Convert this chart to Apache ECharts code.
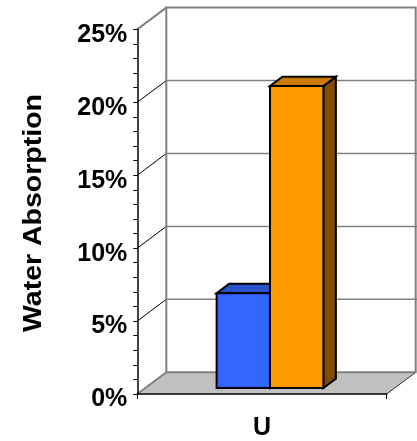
<!DOCTYPE html>
<html>
<head>
<meta charset="utf-8">
<style>
  html, body { margin: 0; padding: 0; background: #fff; }
  #chart { width: 417px; height: 441px; }
</style>
<script src="https://cdn.jsdelivr.net/npm/echarts@6/dist/echarts.min.js"></script>
</head>
<body>
<div id="chart"></div>
<script>
// Categories, values and axis ticks
const categories = ['U'];
const seriesA = [0.065];
const seriesB = [0.207];
const yTicks = [0, 0.05, 0.10, 0.15, 0.20, 0.25];

const FONT = 'Arial, "Liberation Sans", sans-serif';
// Pixel depth of the 3D box (back wall relative to the front plane)
const DEPTH = [29, -21.7];
// Bar placement inside the depth and band
const BAR_FRONT = 0.276;
const BAR_BACK = 0.707;
const BAR_WIDTH = 0.214;

const chart = echarts.init(document.getElementById('chart'), null, { renderer: 'canvas' });

function renderFrame(params, api) {
  const cs = params.coordSys;
  const x0 = cs.x, x1 = cs.x + cs.width;
  const yTop = cs.y, yBot = cs.y + cs.height;
  const dx = DEPTH[0], dy = DEPTH[1];
  const children = [];
  // floor
  children.push({
    type: 'polygon',
    shape: { points: [[x0, yBot], [x1, yBot], [x1 + dx, yBot + dy], [x0 + dx, yBot + dy]] },
    style: { fill: '#c0c0c0', stroke: null }
  });
  children.push({
    type: 'line',
    shape: { x1: x0, y1: yBot, x2: x0 + dx, y2: yBot + dy },
    style: { stroke: '#808080', lineWidth: 2 }
  });
  children.push({
    type: 'line',
    shape: { x1: x1, y1: yBot, x2: x1 + dx, y2: yBot + dy },
    style: { stroke: '#303030', lineWidth: 1 }
  });
  // back wall gridlines and side-wall connectors
  yTicks.forEach(function (t, i) {
    const y = api.coord([categories[0], t])[1];
    if (i > 0 && i < yTicks.length - 1) {
      children.push({
        type: 'line',
        shape: { x1: x0 + dx, y1: y + dy, x2: x1 + dx + 2, y2: y + dy },
        style: { stroke: '#808080', lineWidth: 1.5 }
      });
      children.push({
        type: 'line',
        shape: { x1: x0, y1: y, x2: x0 + dx, y2: y + dy },
        style: { stroke: '#000', lineWidth: 1 }
      });
    }
  });
  // back wall border
  children.push({
    type: 'polyline',
    shape: { points: [[x0 + dx, yBot + dy], [x0 + dx, yTop + dy], [x1 + dx, yTop + dy], [x1 + dx, yBot + dy], [x0 + dx, yBot + dy]] },
    style: { stroke: '#808080', lineWidth: 2, fill: null }
  });
  // side wall top edge
  children.push({
    type: 'line',
    shape: { x1: x0, y1: yTop, x2: x0 + dx, y2: yTop + dy },
    style: { stroke: '#808080', lineWidth: 2 }
  });
  return { type: 'group', children: children };
}

function makeBarRenderer(side, colors) {
  return function (params, api) {
    const v = api.value(1);
    const p0 = api.coord([api.value(0), 0]);
    const p1 = api.coord([api.value(0), v]);
    const band = api.size([1, 0])[0];
    const w = band * BAR_WIDTH;
    const l = side === 0 ? p0[0] - w : p0[0];
    const r = l + w;
    const fx = DEPTH[0] * BAR_FRONT, fy = DEPTH[1] * BAR_FRONT;
    const bx = DEPTH[0] * BAR_BACK, by = DEPTH[1] * BAR_BACK;
    const yb = p0[1], yt = p1[1];
    const stroke = { stroke: '#000', lineWidth: 2, lineJoin: 'miter' };
    return {
      type: 'group',
      children: [
        {
          type: 'polygon',
          shape: { points: [[r + fx, yt + fy], [r + bx, yt + by], [r + bx, yb + by], [r + fx, yb + fy]] },
          style: Object.assign({ fill: colors.side }, stroke)
        },
        {
          type: 'polygon',
          shape: { points: [[l + fx, yt + fy], [r + fx, yt + fy], [r + bx, yt + by], [l + bx, yt + by]] },
          style: Object.assign({ fill: colors.top }, stroke)
        },
        {
          type: 'polygon',
          shape: { points: [[l + fx, yt + fy], [r + fx, yt + fy], [r + fx, yb + fy], [l + fx, yb + fy]] },
          style: Object.assign({ fill: colors.front }, stroke)
        }
      ]
    };
  };
}

const option = {
  animation: false,
  backgroundColor: '#fff',
  grid: { left: 137.3, right: 30.3, top: 29.3, bottom: 45.7, containLabel: false },
  xAxis: {
    type: 'category',
    data: categories,
    boundaryGap: true,
    axisLine: { lineStyle: { color: '#000', width: 1.5 } },
    axisTick: { show: true, length: 5, lineStyle: { color: '#000', width: 1 } },
    axisLabel: { color: '#000', fontFamily: FONT, fontWeight: 'bold', fontSize: 25, margin: 22 },
    splitLine: { show: false },
    z: 5
  },
  yAxis: {
    type: 'value',
    min: yTicks[0],
    max: yTicks[yTicks.length - 1],
    interval: yTicks[1] - yTicks[0],
    axisLine: { show: true, lineStyle: { color: '#000', width: 1.5 } },
    axisTick: { show: true, length: 4, lineStyle: { color: '#000', width: 1 } },
    minorTick: { show: true, splitNumber: 5, length: 4, lineStyle: { color: '#000', width: 1 } },
    axisLabel: {
      color: '#000', fontFamily: FONT, fontWeight: 'bold', fontSize: 25, margin: 10,
      verticalAlign: 'top',
      lineHeight: 11,
      formatter: function (v) { return Math.round(v * 100) + '%'; }
    },
    splitLine: { show: false },
    z: 5
  },
  graphic: [{
    type: 'text',
    x: 34,
    y: 213,
    rotation: Math.PI / 2,
    scaleX: 1.14,
    style: {
      text: 'Water Absorption',
      fill: '#000',
      font: 'bold 25px ' + FONT,
      align: 'center',
      verticalAlign: 'middle'
    }
  }],
  series: [
    {
      type: 'custom',
      name: 'frame',
      data: [[categories[0], 0]],
      renderItem: renderFrame,
      z: 1,
      silent: true
    },
    {
      type: 'custom',
      name: 'A',
      data: categories.map(function (c, i) { return [c, seriesA[i]]; }),
      renderItem: makeBarRenderer(0, { front: '#3366ff', top: '#2a52cc', side: '#1a3380' }),
      z: 2
    },
    {
      type: 'custom',
      name: 'B',
      data: categories.map(function (c, i) { return [c, seriesB[i]]; }),
      renderItem: makeBarRenderer(1, { front: '#ff9900', top: '#cc7a00', side: '#804c00' }),
      z: 3
    }
  ]
};

chart.setOption(option);
</script>
</body>
</html>
